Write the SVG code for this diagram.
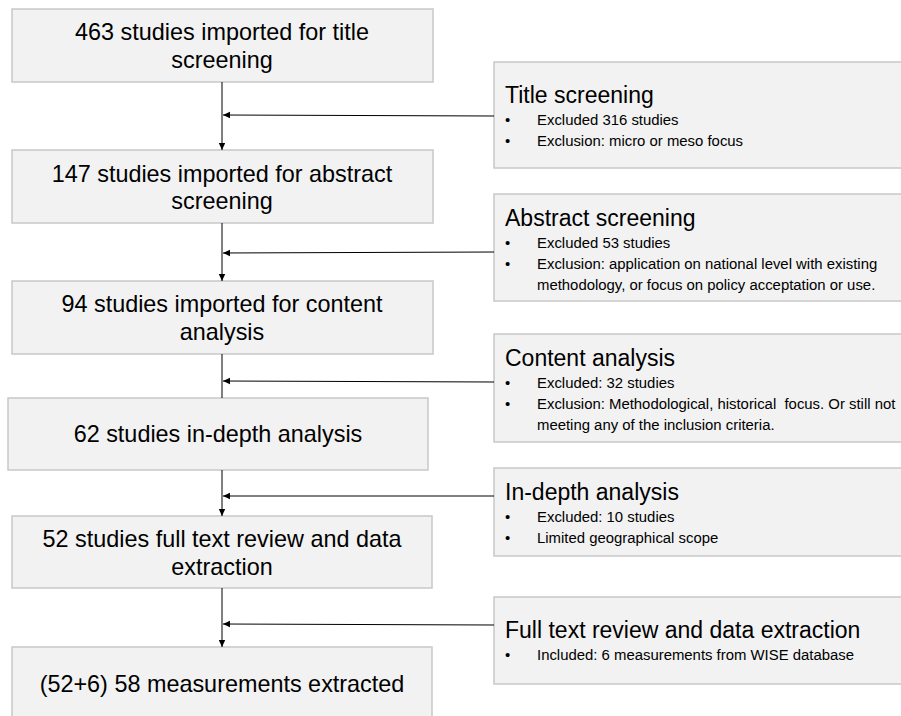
<svg xmlns="http://www.w3.org/2000/svg" width="901" height="716" viewBox="0 0 901 716">
<style>
.box{fill:#f2f2f2;stroke:#c8c8c8;stroke-width:1.5}
.main{font-family:"Liberation Sans",Arial,sans-serif;font-size:23.4px;fill:#000;text-anchor:middle}
.ttl{font-family:"Liberation Sans",Arial,sans-serif;font-size:23px;fill:#000}
.bl{font-family:"Liberation Sans",Arial,sans-serif;font-size:14.9px;fill:#000}
.cn{stroke:#000;stroke-width:1;fill:none}
</style>
<defs>
<marker id="ah" markerWidth="8" markerHeight="8" refX="7" refY="4" orient="auto" markerUnits="userSpaceOnUse">
<path d="M0,0.8 L7,4 L0,7.2 Z" fill="#000"/>
</marker>
</defs>
<rect width="901" height="716" fill="#fff"/>
<g id="n1"><rect class="box" x="12" y="9" width="421" height="73"/>
<text class="main" x="222" y="40">463 studies imported for title</text>
<text class="main" x="222" y="68">screening</text></g>
<g id="n2"><rect class="box" x="12" y="150" width="421" height="73"/>
<text class="main" x="222" y="182">147 studies imported for abstract</text>
<text class="main" x="222" y="209">screening</text></g>
<g id="n3"><rect class="box" x="12" y="281" width="421" height="73"/>
<text class="main" x="222" y="312">94 studies imported for content</text>
<text class="main" x="222" y="340">analysis</text></g>
<g id="n4"><rect class="box" x="8" y="398" width="420" height="72"/>
<text class="main" x="218" y="442">62 studies in-depth analysis</text></g>
<g id="n5"><rect class="box" x="12" y="516" width="420" height="72"/>
<text class="main" x="222" y="547">52 studies full text review and data</text>
<text class="main" x="222" y="575">extraction</text></g>
<g id="n6"><rect class="box" x="12" y="647" width="420" height="80"/>
<text class="main" x="222" y="692">(52+6) 58 measurements extracted</text></g>
<g id="r1"><rect class="box" x="494" y="62" width="420" height="106"/>
<text class="ttl" x="505" y="103">Title screening</text>
<text class="bl" x="505" y="125">•</text><text class="bl" x="537" y="125">Excluded 316 studies</text>
<text class="bl" x="505" y="146">•</text><text class="bl" x="537" y="146">Exclusion: micro or meso focus</text></g>
<g id="r2"><rect class="box" x="494" y="194" width="420" height="107"/>
<text class="ttl" x="505" y="226">Abstract screening</text>
<text class="bl" x="505" y="248">•</text><text class="bl" x="537" y="248">Excluded 53 studies</text>
<text class="bl" x="505" y="269">•</text><text class="bl" x="537" y="269">Exclusion: application on national level with existing</text>
<text class="bl" x="537" y="290">methodology, or focus on policy acceptation or use.</text></g>
<g id="r3"><rect class="box" x="494" y="334" width="420" height="108"/>
<text class="ttl" x="505" y="366">Content analysis</text>
<text class="bl" x="505" y="388">•</text><text class="bl" x="537" y="388">Excluded: 32 studies</text>
<text class="bl" x="505" y="409">•</text><text class="bl" x="537" y="409" xml:space="preserve">Exclusion: Methodological, historical  focus. Or still not</text>
<text class="bl" x="537" y="430">meeting any of the inclusion criteria.</text></g>
<g id="r4"><rect class="box" x="494" y="468" width="420" height="88"/>
<text class="ttl" x="505" y="500">In-depth analysis</text>
<text class="bl" x="505" y="522">•</text><text class="bl" x="537" y="522">Excluded: 10 studies</text>
<text class="bl" x="505" y="543">•</text><text class="bl" x="537" y="543">Limited geographical scope</text></g>
<g id="r5"><rect class="box" x="494" y="597" width="420" height="87"/>
<text class="ttl" x="505" y="638">Full text review and data extraction</text>
<text class="bl" x="505" y="660">•</text><text class="bl" x="537" y="660">Included: 6 measurements from WISE database</text></g>
<g id="connectors">
<line class="cn" x1="222" y1="82" x2="222" y2="150" marker-end="url(#ah)"/>
<line class="cn" x1="222" y1="223" x2="222" y2="281" marker-end="url(#ah)"/>
<line class="cn" x1="222" y1="354" x2="222" y2="398"/>
<line class="cn" x1="222" y1="470" x2="222" y2="516" marker-end="url(#ah)"/>
<line class="cn" x1="222" y1="588" x2="222" y2="647" marker-end="url(#ah)"/>
<line class="cn" x1="494" y1="116" x2="223" y2="115" marker-end="url(#ah)"/>
<line class="cn" x1="494" y1="252" x2="223" y2="253" marker-end="url(#ah)"/>
<line class="cn" x1="494" y1="382" x2="223" y2="381" marker-end="url(#ah)"/>
<line class="cn" x1="494" y1="496" x2="223" y2="496" marker-end="url(#ah)"/>
<line class="cn" x1="494" y1="625" x2="223" y2="624" marker-end="url(#ah)"/>
</g>
</svg>
